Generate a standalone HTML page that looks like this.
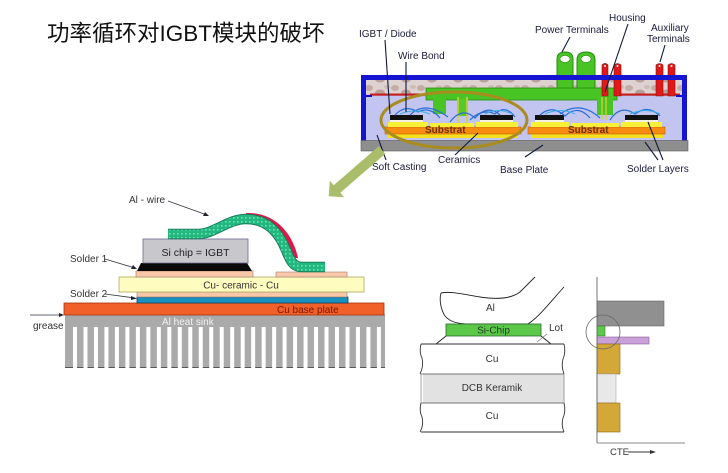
<!DOCTYPE html>
<html><head><meta charset="utf-8"><style>
html,body{margin:0;padding:0;background:#fff;}
svg{display:block;}
text{font-family:"Liberation Sans","Noto Sans CJK SC",sans-serif;}
</style></head><body>
<svg width="728" height="473" viewBox="0 0 728 473" xmlns="http://www.w3.org/2000/svg">
<defs>
<pattern id="fins" x="73" y="0" width="10.48" height="100" patternUnits="userSpaceOnUse">
<rect x="0" y="0" width="4" height="100" fill="#fff"/>
</pattern>
<pattern id="dots" x="0" y="0" width="4" height="4" patternUnits="userSpaceOnUse">
<rect width="4" height="4" fill="#22b880"/>
<rect x="1" y="1" width="1.6" height="1.6" fill="#6ee0b0"/>
</pattern>
<pattern id="mottle" x="0" y="0" width="26" height="14" patternUnits="userSpaceOnUse">
<rect width="26" height="14" fill="#ddd2cf"/>
<ellipse cx="5" cy="4" rx="4" ry="3" fill="#c4aca6"/>
<ellipse cx="16" cy="9" rx="5" ry="3.5" fill="#b9a19a"/>
<ellipse cx="23" cy="3" rx="3" ry="2" fill="#cdbbb6"/>
</pattern>
</defs>

<!-- Title -->
<text x="47" y="41" font-size="22.5" fill="#111">功率循环对IGBT模块的破坏</text>

<!-- ===== Top diagram ===== -->
<rect x="366" y="80" width="316" height="61" fill="#c2c5ef"/>
<rect x="366" y="80" width="316" height="14" fill="url(#mottle)"/>
<rect x="370" y="93.5" width="310" height="2.2" fill="#c42020"/>
<rect x="366" y="95" width="6" height="2" fill="#1010c8"/>
<rect x="676" y="95" width="6" height="2" fill="#1010c8"/>

<!-- power terminals -->
<path d="M557,99 L557,59 Q557,52 565,52 Q573,52 573,59 L573,99 Z" fill="#48c424" stroke="#2a8a12" stroke-width="1"/>
<path d="M577,99 L577,60 Q577,52 586,52 Q595,52 595,60 L595,99 Z" fill="#48c424" stroke="#2a8a12" stroke-width="1"/>
<ellipse cx="565" cy="59" rx="5" ry="3.5" fill="#fff" stroke="#2a8a12" stroke-width="0.6"/>
<ellipse cx="586" cy="59" rx="5" ry="3.5" fill="#fff" stroke="#2a8a12" stroke-width="0.6"/>

<!-- green internal structure -->
<rect x="426" y="88" width="191" height="12" fill="#48c424" stroke="#2a8a12" stroke-width="0.8"/>
<rect x="433" y="99" width="13" height="15" fill="#48c424"/>
<rect x="457" y="99" width="11" height="17" fill="#58c830"/>
<line x1="458" y1="97" x2="458" y2="124" stroke="#d8d030" stroke-width="1.5"/>
<line x1="467" y1="97" x2="467" y2="124" stroke="#d8d030" stroke-width="1.5"/>
<rect x="597" y="99" width="16" height="16" fill="#48c424"/>
<line x1="602" y1="97" x2="602" y2="120" stroke="#d8d030" stroke-width="1.3"/>
<line x1="606" y1="97" x2="606" y2="120" stroke="#d8d030" stroke-width="1.3"/>

<!-- aux terminals -->
<g fill="#e01818" stroke="#8a1010" stroke-width="0.6">
<path d="M602,96 L602,65 Q605,62 608,65 L608,96 Z"/>
<path d="M614,96 L614,65 Q617.5,62 621,65 L621,96 Z"/>
<path d="M656,96 L656,65 Q659.5,62 663,65 L663,96 Z"/>
<path d="M668,96 L668,65 Q671.5,62 675,65 L675,96 Z"/>
</g>
<g fill="#fff"><circle cx="605" cy="66" r="1"/><circle cx="617.5" cy="66" r="1"/><circle cx="659.5" cy="66" r="1"/><circle cx="671.5" cy="66" r="1"/></g>

<!-- blue frame -->
<path d="M361,141 L361,75 L687,75 L687,141 L682,141 L682,80 L366,80 L366,141 Z" fill="#1414d2"/>

<!-- substrates -->
<rect x="388" y="133.5" width="130" height="4.5" fill="#f4e020"/>
<rect x="385" y="127" width="136" height="7" fill="#f88c10" stroke="#c06000" stroke-width="0.6"/>
<rect x="388" y="122" width="40" height="5" fill="#f8f038"/>
<rect x="430" y="123" width="44" height="4" fill="#f8f038"/>
<rect x="476" y="122" width="42" height="5" fill="#f8f038"/>
<rect x="531" y="133.5" width="132" height="4.5" fill="#f4e020"/>
<rect x="528" y="127" width="137" height="7" fill="#f88c10" stroke="#c06000" stroke-width="0.6"/>
<rect x="531" y="122" width="38" height="5" fill="#f8f038"/>
<rect x="571" y="123" width="48" height="4" fill="#f8f038"/>
<rect x="621" y="122" width="41" height="5" fill="#f8f038"/>
<!-- chips -->
<g fill="#111"><rect x="390" y="115" width="33" height="5"/><rect x="480" y="115" width="33" height="5"/><rect x="535" y="115" width="29" height="5"/><rect x="625" y="115" width="33" height="5"/></g>
<g fill="#f4f0e0"><rect x="390" y="120" width="33" height="2"/><rect x="480" y="120" width="33" height="2"/><rect x="535" y="120" width="29" height="2"/><rect x="625" y="120" width="33" height="2"/></g>
<!-- wire bonds -->
<g fill="none" stroke="#2a6ed8" stroke-width="1.2">
<path d="M395,115 Q405,104 418,112 Q430,106 440,118"/>
<path d="M410,115 Q425,100 448,117"/>
<path d="M450,122 Q462,106 475,118 Q488,104 500,115"/>
<path d="M470,120 Q482,108 495,114 Q505,104 515,117"/>
<path d="M540,115 Q552,104 565,116 Q578,104 590,118"/>
<path d="M560,114 Q580,100 600,118"/>
<path d="M610,120 Q620,104 635,114 Q648,104 660,116"/>
</g>
<g fill="none" stroke="#3ab0e8" stroke-width="1">
<path d="M400,114 Q415,108 430,114"/>
<path d="M485,114 Q498,107 512,114"/>
<path d="M545,114 Q560,107 575,114"/>
<path d="M630,114 Q645,107 660,114"/>
</g>
<!-- base plate -->
<rect x="361" y="140.5" width="327" height="10.5" fill="#8e8e8e" stroke="#5a5a5a" stroke-width="0.6"/>
<text x="425" y="133" font-size="10" font-weight="bold" fill="#6a3000">Substrat</text>
<text x="568" y="133" font-size="10" font-weight="bold" fill="#6a3000">Substrat</text>

<!-- ellipse -->
<ellipse cx="454" cy="120" rx="73" ry="28" fill="none" stroke="#a88c20" stroke-width="3"/>

<!-- leader lines -->
<g stroke="#101840" stroke-width="1.1" fill="none">
<line x1="385" y1="40" x2="390" y2="114"/>
<line x1="406" y1="62" x2="406" y2="112"/>
<line x1="570" y1="37" x2="562" y2="52"/>
<line x1="628" y1="24" x2="605" y2="92"/>
<line x1="665" y1="45" x2="660" y2="62"/>
<line x1="377" y1="135" x2="386" y2="160"/>
<line x1="455" y1="155" x2="478" y2="133"/>
<line x1="525" y1="157" x2="543" y2="145"/>
<line x1="658" y1="160" x2="645" y2="142"/>
<line x1="663" y1="160" x2="648" y2="122"/>
</g>
<g font-size="10" fill="#1a1a3a">
<text x="359" y="37">IGBT / Diode</text>
<text x="398" y="59">Wire Bond</text>
<text x="535" y="33">Power Terminals</text>
<text x="609" y="21">Housing</text>
<text x="651" y="31">Auxiliary</text>
<text x="647" y="42">Terminals</text>
<text x="372" y="170">Soft Casting</text>
<text x="438" y="163">Ceramics</text>
<text x="500" y="173">Base Plate</text>
<text x="627" y="172">Solder Layers</text>
</g>

<!-- green arrow -->
<polygon points="378.7,146.2 385.3,153.8 340.3,192.8 344.2,197.3 328.7,196.2 329.8,180.7 333.7,185.2" fill="#a9bd6a"/>

<!-- ===== Left diagram ===== -->
<!-- heat sink -->
<rect x="65" y="314" width="320" height="54" fill="#aaaaaa"/>
<line x1="65" y1="367.5" x2="385" y2="367.5" stroke="#555" stroke-width="1"/>
<rect x="73" y="327" width="308" height="42" fill="url(#fins)"/>
<!-- base plate -->
<rect x="64" y="303" width="320" height="12" fill="#f06028" stroke="#a83410" stroke-width="0.8"/>
<!-- blue & peach under ceramic -->
<rect x="137" y="297" width="211" height="6" fill="#1890c0" stroke="#10405a" stroke-width="0.8"/>
<rect x="137" y="292" width="210" height="5" fill="#f8c8a8" stroke="#a08070" stroke-width="0.6"/>
<!-- ceramic -->
<rect x="119" y="277" width="245" height="15" fill="#fffcc0" stroke="#b0a860" stroke-width="0.8"/>
<!-- pads -->
<rect x="136" y="271" width="117" height="6" fill="#f8c8a8" stroke="#a08070" stroke-width="0.6"/>
<rect x="276" y="272" width="71" height="5" fill="#f8c8a8" stroke="#a08070" stroke-width="0.6"/>
<!-- black solder -->
<polygon points="141,263 247,263 252,271 137,271" fill="#0a0a0a"/>
<!-- chip -->
<rect x="143" y="239" width="105" height="24" fill="#c8c8cc" stroke="#6a6a90" stroke-width="0.8"/>
<!-- red part of wire -->
<path d="M246,213 C272,212 292,230 298,258 L288,258 C282,240 270,222 246,219 Z" fill="#e01848"/>
<!-- wire ribbon -->
<path d="M168,234 L198,234 C214,234 228,219 246,219 C268,219 279,233 286,250 C290,260 293,267 302,267 L325,267" fill="none" stroke="#1a7a5a" stroke-width="10.5"/>
<path d="M168,234 L198,234 C214,234 228,219 246,219 C268,219 279,233 286,250 C290,260 293,267 302,267 L325,267" fill="none" stroke="url(#dots)" stroke-width="8.5"/>

<g font-size="10" fill="#333">
<text x="129" y="203">Al - wire</text>
<text x="70" y="262">Solder 1</text>
<text x="70" y="297">Solder 2</text>
<text x="33" y="329">grease</text>
</g>
<text x="195.5" y="256" font-size="10.5" fill="#222" text-anchor="middle">Si chip = IGBT</text>
<text x="241" y="288.5" font-size="10" fill="#333" text-anchor="middle">Cu- ceramic - Cu</text>
<text x="277" y="313" font-size="10" fill="#7a1800">Cu base plate</text>
<text x="162" y="325" font-size="10" fill="#f2f2f2">Al heat sink</text>
<g stroke="#334" stroke-width="0.8" fill="none">
<line x1="168" y1="201" x2="207" y2="215"/>
<line x1="105" y1="259" x2="135" y2="268"/>
<line x1="105" y1="294" x2="135" y2="298"/>
<line x1="30" y1="315" x2="62" y2="315"/>
</g>
<g fill="#223">
<polygon points="209,216 203,216 205,212"/>
<polygon points="137,269 131,269 133,265"/>
<polygon points="137,298.5 131,300 131,296"/>
<polygon points="64,315 59,313 59,317"/>
</g>

<!-- ===== Bottom right diagram ===== -->
<path d="M441,293 C439,300 441,310 445,316 C450,322 458,324 470,324 L528,324 C540,316 552,300 564,287" fill="#fff" stroke="#222" stroke-width="0.9"/>
<path d="M441,293 C450,291 462,294 480,297 C500,300 512,298 520,292 C526,286 531,281 535,277" fill="none" stroke="#222" stroke-width="0.9"/>
<text x="486" y="311" font-size="10" fill="#333">Al</text>
<rect x="446" y="324" width="95" height="12" fill="#5cc84a" stroke="#2a6a2a" stroke-width="0.8"/>
<text x="493.5" y="333.5" font-size="10" fill="#1e3a1e" text-anchor="middle">Si-Chip</text>
<line x1="446" y1="336" x2="436" y2="344" stroke="#222" stroke-width="0.9"/>
<line x1="541" y1="336" x2="551" y2="344" stroke="#222" stroke-width="0.9"/>
<text x="549" y="331" font-size="10" fill="#333">Lot</text>
<line x1="547" y1="334" x2="537" y2="342" stroke="#777" stroke-width="0.7"/>
<!-- layers -->
<rect x="423" y="374" width="141" height="29" fill="#e2e2e2"/>
<g stroke="#333" stroke-width="0.9" fill="none">
<line x1="421" y1="344" x2="564" y2="344"/>
<line x1="421" y1="432" x2="564" y2="432"/>
<line x1="421" y1="374" x2="564" y2="374" stroke="#777"/>
<line x1="421" y1="403" x2="564" y2="403" stroke="#777"/>
<path d="M421,344 Q419,352 422,358 Q424,366 420,374"/>
<path d="M564,344 Q566,352 563,359 Q561,366 564,374"/>
<path d="M421,374 L421,403" stroke="#999"/>
<path d="M564,374 L564,403" stroke="#999"/>
<path d="M421,403 Q419,411 422,417 Q424,425 420,432"/>
<path d="M564,403 Q566,411 563,418 Q561,425 564,432"/>
</g>
<text x="492" y="362" font-size="10" fill="#333" text-anchor="middle">Cu</text>
<text x="492" y="391" font-size="10" fill="#333" text-anchor="middle">DCB Keramik</text>
<text x="492" y="419" font-size="10" fill="#333" text-anchor="middle">Cu</text>

<!-- CTE chart -->
<rect x="597" y="301" width="67" height="25" fill="#909090" stroke="#666" stroke-width="0.6"/>
<rect x="597" y="326" width="8" height="10" fill="#5cc84a" stroke="#2a6a2a" stroke-width="0.5"/>
<rect x="597" y="337" width="52" height="7" fill="#c9a0d8" stroke="#8a5a9a" stroke-width="0.6"/>
<rect x="597" y="344" width="23" height="30" fill="#d4a838" stroke="#8a6a10" stroke-width="0.6"/>
<rect x="597" y="374" width="19" height="29" fill="#e8e8e8" stroke="#aaa" stroke-width="0.6"/>
<rect x="597" y="403" width="23" height="29" fill="#d4a838" stroke="#8a6a10" stroke-width="0.6"/>
<line x1="597" y1="277" x2="597" y2="443" stroke="#666" stroke-width="0.9"/>
<line x1="597" y1="443" x2="685" y2="443" stroke="#888" stroke-width="0.9"/>
<circle cx="603" cy="332" r="17" fill="none" stroke="#666" stroke-width="0.8"/>
<text x="610" y="455" font-size="9.5" fill="#333">CTE</text>
<line x1="628" y1="452" x2="652" y2="452" stroke="#333" stroke-width="0.9"/>
<polygon points="656,452 650,450 650,454" fill="#333"/>
</svg>
</body></html>
